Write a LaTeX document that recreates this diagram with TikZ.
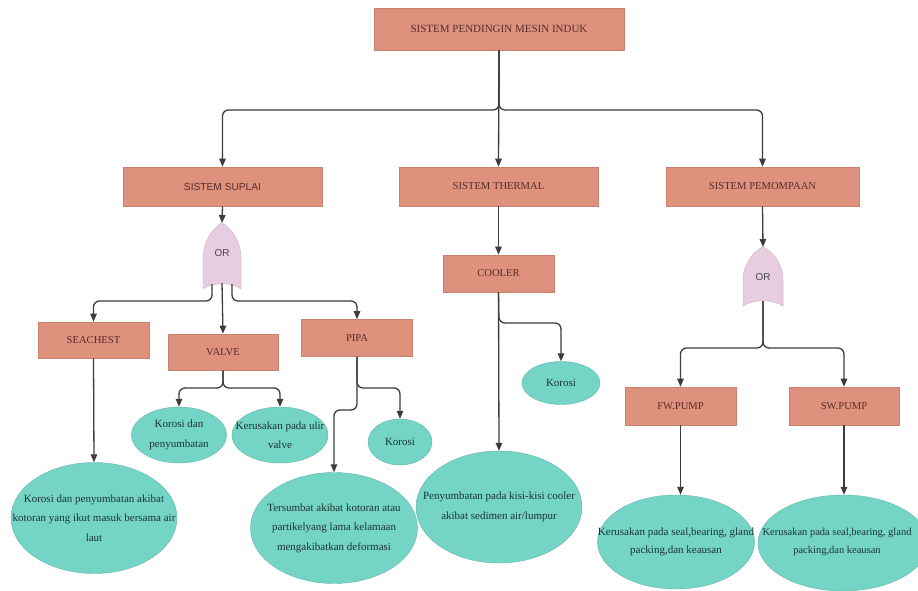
\documentclass[tikz,border=0pt]{standalone}
\usepackage{fontspec}
\setmainfont{Liberation Serif}
\newfontfamily\gatefont{Liberation Sans}
\usetikzlibrary{arrows.meta,shapes.geometric}
\definecolor{boxfill}{HTML}{DE927D}
\definecolor{boxline}{HTML}{CB826D}
\definecolor{boxtext}{HTML}{5A2B2B}
\definecolor{ellfill}{HTML}{74D5C6}
\definecolor{elltext}{HTML}{1A3432}
\definecolor{gatefill}{HTML}{E6CEE0}
\definecolor{gateline}{HTML}{D4B8CC}
\definecolor{gatetextc}{HTML}{4A4550}
\definecolor{linecol}{HTML}{3C3C3C}
\begin{document}
\begin{tikzpicture}[x=1pt,y=-1pt,
 box/.style={rectangle, fill=boxfill, draw=boxline, line width=0.6pt, inner sep=0pt, text=boxtext, font=\fontsize{10.6}{12}\selectfont},
 ell/.style={ellipse, fill=ellfill, draw=ellfill!85!black, line width=0.4pt, inner sep=0pt},
 etext/.style={align=center, text=elltext, font=\fontsize{11}{19.5}\selectfont, inner sep=0pt},
 conn/.style={draw=linecol, line width=1.3pt, rounded corners=6pt, -{Triangle[length=8pt,width=6.5pt]}},
 gate/.style={fill=gatefill, draw=gateline, line width=0.5pt},
 gatetext/.style={text=gatetextc, font=\gatefont\fontsize{10}{12}\selectfont, inner sep=0pt},
]
\useasboundingbox[fill=white] (0,0) rectangle (918,591);

% boxes
\node[box, minimum width=250pt, minimum height=42pt, font=\fontsize{11}{12}\selectfont] (top) at (499,29) {SISTEM PENDINGIN MESIN INDUK};
\node[box, minimum width=199pt, minimum height=39pt, font=\gatefont\fontsize{10.2}{12}\selectfont] (suplai) at (222.5,186.5) {SISTEM SUPLAI};
\node[box, minimum width=199pt, minimum height=39pt] (thermal) at (498.5,186.5) {SISTEM THERMAL};
\node[box, minimum width=193pt, minimum height=39pt] (pemompaan) at (762.5,186.5) {SISTEM PEMOMPAAN};
\node[box, minimum width=111pt, minimum height=37pt] (cooler) at (498.5,273.5) {COOLER};
\node[box, minimum width=111pt, minimum height=36pt] (seachest) at (93.5,340) {SEACHEST};
\node[box, minimum width=110pt, minimum height=36pt] (valve) at (223,352) {VALVE};
\node[box, minimum width=111pt, minimum height=37pt] (pipa) at (357,338) {PIPA};
\node[box, minimum width=111pt, minimum height=38pt] (fw) at (680.5,406) {FW.PUMP};
\node[box, minimum width=110pt, minimum height=38pt] (sw) at (844,406) {SW.PUMP};

% gates
\draw[gate] (203,289) -- (203,259) .. controls (203,240) and (214,227) .. (222,223) .. controls (230,227) and (241,240) .. (241,259) -- (241,289) .. controls (232,282) and (212,282) .. cycle;
\node[gatetext] (orL) at (222,253) {OR};
\draw[gate] (743,306) -- (743,280) .. controls (743,263) and (755,250) .. (763,247) .. controls (771,250) and (783,263) .. (783,280) -- (783,306) .. controls (773,299) and (753,299) .. cycle;
\node[gatetext] (orR) at (763,277) {OR};

% ellipses
\node[ell, minimum width=166pt, minimum height=111pt] (esea) at (94,518) {};
\node[etext] (tsea) at (esea) {Korosi dan penyumbatan akibat\\kotoran yang ikut masuk bersama air\\laut};
\node[ell, minimum width=95pt, minimum height=56pt] (ekd) at (179,435) {};
\node[etext] (tkd) at (ekd) {Korosi dan\\penyumbatan};
\node[ell, minimum width=96pt, minimum height=56pt] (eku) at (280,435) {};
\node[etext] (tku) at (eku) {Kerusakan pada ulir\\valve};
\node[ell, minimum width=64pt, minimum height=46pt] (epk) at (400,442) {};
\node[etext] (tpk) at (epk) {Korosi};
\node[ell, minimum width=167pt, minimum height=111pt] (eter) at (334,528) {};
\node[etext] (tter) at (eter) {Tersumbat akibat kotoran atau\\partikelyang lama kelamaan\\mengakibatkan deformasi};
\node[ell, minimum width=78pt, minimum height=43pt] (eck) at (561,383) {};
\node[etext] (tck) at (eck) {Korosi};
\node[ell, minimum width=166pt, minimum height=112pt] (ecool) at (499,507) {};
\node[etext] (tcool) at (ecool) {Penyumbatan pada kisi-kisi cooler\\akibat sedimen air/lumpur};
\node[ell, minimum width=157pt, minimum height=94pt] (efw) at (676,542) {};
\node[etext, font=\fontsize{11}{18}\selectfont] (tfw) at (efw) {Kerusakan pada seal,bearing, gland\\packing,dan keausan};
\node[ell, minimum width=170pt, minimum height=96pt] (esw) at (843,543) {};
\node[etext, font=\fontsize{10.5}{18}\selectfont] (tsw) at (837,542) {Kerusakan pada seal,bearing, gland\\packing,dan keausan};

% junction coordinates
\coordinate (jtop) at (499,110);
\coordinate (orLin) at (222,223);
\coordinate (orLa) at (212,284);
\coordinate (orLb) at (222,283);
\coordinate (orLc) at (232,284);
\coordinate (jLa) at (212,301);
\coordinate (jLc) at (232,301);
\coordinate (jv) at (223,388);
\coordinate (jp1) at (357,388);
\coordinate (jp2) at (357,410);
\coordinate (jc) at (499,323);
\coordinate (orRin) at (763,247);
\coordinate (orRb) at (763,301);
\coordinate (jR) at (763,348);

% connectors
\draw[conn] (top.south) -- (thermal.north);
\draw[conn] (top.south) -- (jtop) -| (suplai.north);
\draw[conn] (top.south) -- (jtop) -| (pemompaan.north);
\draw[conn] (suplai.south) -- (orLin);
\draw[conn] (orLa) -- (jLa) -| (seachest.north);
\draw[conn] (orLb) -- (valve.north);
\draw[conn] (orLc) -- (jLc) -| (pipa.north);
\draw[conn] (seachest.south) -- (esea.north);
\draw[conn] (valve.south) -- (jv) -| (ekd.north);
\draw[conn] (valve.south) -- (jv) -| (eku.north);
\draw[conn] (pipa.south) -- (jp1) -| (epk.north);
\draw[conn] (pipa.south) -- (jp2) -| (eter.north);
\draw[conn] (thermal.south) -- (cooler.north);
\draw[conn] (cooler.south) -- (ecool.north);
\draw[conn] (cooler.south) -- (jc) -| (eck.north);
\draw[conn] (pemompaan.south) -- (orRin);
\draw[conn] (orRb) -- (jR) -| (fw.north);
\draw[conn] (orRb) -- (jR) -| (sw.north);
\draw[conn] (fw.south) -- (fw.south |- efw.north);
\draw[conn] (sw.south) -- (sw.south |- esw.north);
\end{tikzpicture}
\end{document}
